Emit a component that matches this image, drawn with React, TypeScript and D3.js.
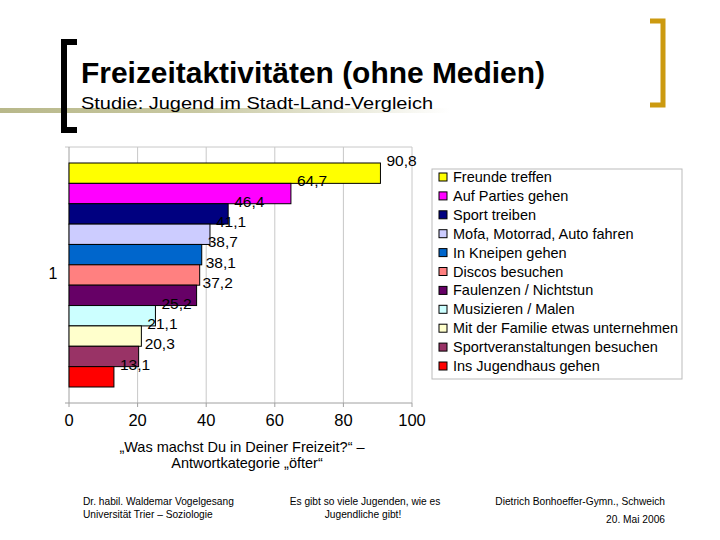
import React from "react";
import * as d3 from "d3";

const categories = [
  "Freunde treffen",
  "Auf Parties gehen",
  "Sport treiben",
  "Mofa, Motorrad, Auto fahren",
  "In Kneipen gehen",
  "Discos besuchen",
  "Faulenzen / Nichtstun",
  "Musizieren / Malen",
  "Mit der Familie etwas unternehmen",
  "Sportveranstaltungen besuchen",
  "Ins Jugendhaus gehen",
];
const values = [90.8, 64.7, 46.4, 41.1, 38.7, 38.1, 37.2, 25.2, 21.1, 20.3, 13.1];
const colors = [
  "#FFFF00", "#FF00FF", "#000080", "#CCCCFF", "#0066CC", "#FF8080",
  "#660066", "#CCFFFF", "#FFFFCC", "#993366", "#FF0000",
];
const xTicks = [0, 20, 40, 60, 80, 100];
const groupLabel = "1";

const FONT = "'Liberation Sans', Arial, sans-serif";

export default function App() {
  const x = d3.scaleLinear().domain([0, 100]).range([69, 412]);
  const y = d3.scaleBand<string>().domain(categories).range([163, 387]).padding(0);
  const plotTop = 147;
  const plotBottom = 403;
  const fmt = (v: number) => v.toFixed(1).replace(".", ",");

  return (
    <svg width={720} height={540} style={{ position: "absolute", left: 0, top: 0, background: "#fff" }} fontFamily={FONT}>
      <defs>
        <linearGradient id="band" x1="0" x2="1" y1="0" y2="0">
          <stop offset="0" stopColor="#B8B88A" />
          <stop offset="0.45" stopColor="#C9C9A3" />
          <stop offset="1" stopColor="#FFFFFF" />
        </linearGradient>
      </defs>
      <rect x={0} y={0} width={720} height={540} fill="#fff" />
      {/* header decorations */}
      <rect x={0} y={108} width={450} height={5} fill="url(#band)" />
      <path d="M77,42 H64 V130 H77" fill="none" stroke="#000" strokeWidth={6} />
      <path d="M650,21 H663 V105 H650" fill="none" stroke="#CC9A10" strokeWidth={5} />
      <text x={81} y={83} fontSize={29} fontWeight="bold" textLength={464} lengthAdjust="spacingAndGlyphs" fill="#000">Freizeitaktivitäten (ohne Medien)</text>
      <text x={81} y={109} fontSize={17} textLength={352} lengthAdjust="spacingAndGlyphs" fill="#000">Studie: Jugend im Stadt-Land-Vergleich</text>

      {/* plot area */}
      <line x1={65} x2={412} y1={plotTop} y2={plotTop} stroke="#C8C8C8" />
      {xTicks.slice(1).map((t) => (
        <line key={"g" + t} x1={x(t)} x2={x(t)} y1={plotTop} y2={plotBottom} stroke="#C8C8C8" />
      ))}
      <line x1={x(0)} x2={x(0)} y1={plotTop} y2={plotBottom} stroke="#A0A0A0" />
      <line x1={65} x2={x(100)} y1={plotBottom} y2={plotBottom} stroke="#A0A0A0" />
      {xTicks.map((t) => (
        <g key={"t" + t}>
          <line x1={x(t)} x2={x(t)} y1={plotBottom} y2={plotBottom + 4} stroke="#A0A0A0" />
          <text x={x(t)} y={426} fontSize={16.5} textAnchor="middle" fill="#000">{t}</text>
        </g>
      ))}
      <text x={53} y={279} fontSize={16} textAnchor="middle" fill="#000">{groupLabel}</text>

      {categories.map((c, i) => (
        <rect key={c} x={x(0)} y={y(c)} width={x(values[i]) - x(0)} height={y.bandwidth()} fill={colors[i]} stroke="#000" strokeWidth={1} />
      ))}
      {categories.map((c, i) => (
        <text key={"l" + c} x={x(values[i]) + 6} y={(y(c) as number) + 3} fontSize={15.5} fill="#000">{fmt(values[i])}</text>
      ))}

      {/* legend */}
      <rect x={432} y={169} width={250} height={210} fill="#fff" stroke="#BBBBBB" />
      {categories.map((c, i) => (
        <g key={"lg" + c} transform={`translate(439, ${177 + i * 18.9})`}>
          <rect x={0} y={-4} width={8} height={8} fill={colors[i]} stroke="#000" strokeWidth={1} />
          <text x={14} y={5} fontSize={14.5} fill="#000" textLength={i === 8 ? 225 : undefined} lengthAdjust="spacingAndGlyphs">{c}</text>
        </g>
      ))}

      {/* caption */}
      <text x={242} y={452} fontSize={14.5} textAnchor="middle" fill="#000">„Was machst Du in Deiner Freizeit?“ –</text>
      <text x={247} y={468} fontSize={14.5} textAnchor="middle" fill="#000">Antwortkategorie „öfter“</text>

      {/* footer */}
      <text x={83} y={505} fontSize={10.2} fill="#000">Dr. habil. Waldemar Vogelgesang</text>
      <text x={83} y={518} fontSize={10.2} fill="#000">Universität Trier – Soziologie</text>
      <text x={365} y={505} fontSize={10.2} textAnchor="middle" fill="#000">Es gibt so viele Jugenden, wie es</text>
      <text x={363} y={518} fontSize={10.2} textAnchor="middle" fill="#000">Jugendliche gibt!</text>
      <text x={665} y={505} fontSize={10.2} textAnchor="end" fill="#000">Dietrich Bonhoeffer-Gymn., Schweich</text>
      <text x={665} y={523} fontSize={10.2} textAnchor="end" fill="#000">20. Mai 2006</text>
    </svg>
  );
}
